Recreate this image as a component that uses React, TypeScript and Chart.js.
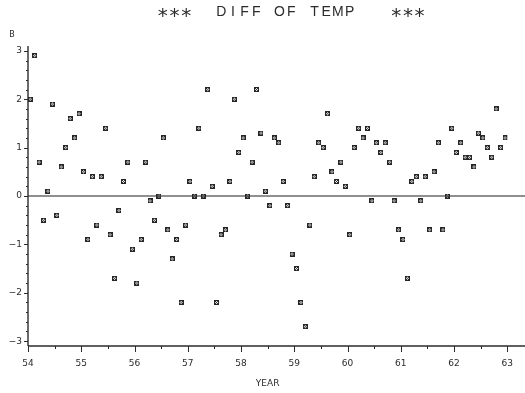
import React, { useEffect, useRef } from "react";
import { Chart, registerables } from "chart.js";

Chart.register(...registerables);

const TITLE = "***  DIFF OF TEMP   ***";
const Y_AXIS_LABEL = "B";
const X_AXIS_LABEL = "YEAR";

const FIRST_YEAR = 54;
const LAST_YEAR = 63;
const X_TICKS = [54, 55, 56, 57, 58, 59, 60, 61, 62, 63];
const Y_TICKS = [-3, -2, -1, 0, 1, 2, 3];
const Y_MIN = -3.1;
const Y_MAX = 3.1;

// monthly values, one array per year (Jan..Dec)
const DIFF_54 = [2.0, 2.9, 0.7, -0.5, 0.1, 1.9, -0.4, 0.6, 1.0, 1.6, 1.2, 1.7];
const DIFF_55 = [0.5, -0.9, 0.4, -0.6, 0.4, 1.4, -0.8, -1.7, -0.3, 0.3, 0.7, -1.1];
const DIFF_56 = [-1.8, -0.9, 0.7, -0.1, -0.5, 0.0, 1.2, -0.7, -1.3, -0.9, -2.2, -0.6];
const DIFF_57 = [0.3, 0.0, 1.4, 0.0, 2.2, 0.2, -2.2, -0.8, -0.7, 0.3, 2.0, 0.9];
const DIFF_58 = [1.2, 0.0, 0.7, 2.2, 1.3, 0.1, -0.2, 1.2, 1.1, 0.3, -0.2, -1.2];
const DIFF_59 = [-1.5, -2.2, -2.7, -0.6, 0.4, 1.1, 1.0, 1.7, 0.5, 0.3, 0.7, 0.2];
const DIFF_60 = [-0.8, 1.0, 1.4, 1.2, 1.4, -0.1, 1.1, 0.9, 1.1, 0.7, -0.1, -0.7];
const DIFF_61 = [-0.9, -1.7, 0.3, 0.4, -0.1, 0.4, -0.7, 0.5, 1.1, -0.7, 0.0, 1.4];
const DIFF_62 = [0.9, 1.1, 0.8, 0.8, 0.6, 1.3, 1.2, 1.0, 0.8, 1.8, 1.0, 1.2];

const YEARLY = [DIFF_54, DIFF_55, DIFF_56, DIFF_57, DIFF_58, DIFF_59, DIFF_60, DIFF_61, DIFF_62];

const INK = "#2b2b2b";
const FONT = "'DejaVu Sans', sans-serif";

function makeMarker(): HTMLCanvasElement {
  const m = document.createElement("canvas");
  m.width = 5;
  m.height = 5;
  const c = m.getContext("2d")!;
  c.strokeStyle = "#262626";
  c.lineWidth = 1;
  c.strokeRect(0.5, 0.5, 4, 4);
  c.beginPath();
  c.moveTo(0.5, 0.5);
  c.lineTo(4.5, 4.5);
  c.moveTo(4.5, 0.5);
  c.lineTo(0.5, 4.5);
  c.stroke();
  return m;
}

const decor = {
  id: "decor",
  beforeDatasetsDraw(chart: any) {
    const { ctx, chartArea: a, scales } = chart;
    const x = scales.x;
    const y = scales.y;
    const W = chart.width;
    ctx.save();
    const ln = (x1: number, y1: number, x2: number, y2: number) => {
      ctx.beginPath();
      ctx.moveTo(x1, y1);
      ctx.lineTo(x2, y2);
      ctx.stroke();
    };
    // zero reference line
    const y0 = y.getPixelForValue(0);
    ctx.strokeStyle = "#6a6a6a";
    ctx.lineWidth = 1.6;
    ln(a.left, y0, W, y0);
    // axes
    ctx.strokeStyle = INK;
    ctx.lineWidth = 1.4;
    ln(a.left, a.top, a.left, a.bottom);
    ln(a.left, a.bottom, W, a.bottom);
    // y ticks (major at integers, minor every 0.2)
    ctx.lineWidth = 1;
    for (let k = -15; k <= 15; k++) {
      const py = Math.round(y.getPixelForValue(k / 5)) + 0.5;
      const len = k % 5 === 0 ? 4 : 2;
      ln(a.left - len, py, a.left, py);
    }
    // x ticks (major at years, minor at half years)
    for (let k = FIRST_YEAR * 2; k <= LAST_YEAR * 2; k++) {
      const px = Math.round(x.getPixelForValue(k / 2)) + 0.5;
      const len = k % 2 === 0 ? 6 : 3;
      ln(px, a.bottom, px, a.bottom + len);
    }
    ctx.restore();
  },
  afterDraw(chart: any) {
    const { ctx, chartArea: a } = chart;
    ctx.save();
    ctx.fillStyle = INK;
    ctx.textBaseline = "middle";
    ctx.textAlign = "center";
    // title, monospaced pitch like a plotter font
    const pitch = 11.67;
    const startX = 157;
    for (let i = 0; i < TITLE.length; i++) {
      const ch = TITLE[i];
      if (ch === " ") continue;
      const cx = startX + pitch * (i + 0.5);
      if (ch === "*") {
        ctx.font = `20px ${FONT}`;
        ctx.fillText(ch, cx, 17);
      } else {
        ctx.font = `14px 'Liberation Sans', sans-serif`;
        ctx.fillText(ch, cx, 12);
      }
    }
    // y axis label
    ctx.font = `8px ${FONT}`;
    ctx.fillText(Y_AXIS_LABEL, 12, 35);
    // x axis label
    ctx.font = `9px ${FONT}`;
    ctx.fillText(X_AXIS_LABEL, (a.left + a.right) / 2, 384);
    ctx.restore();
  },
};

export default function App() {
  const ref = useRef<HTMLCanvasElement | null>(null);

  useEffect(() => {
    if (!ref.current) return;
    const points: { x: number; y: number }[] = [];
    YEARLY.forEach((vals, yi) => {
      vals.forEach((v, mi) => {
        points.push({ x: FIRST_YEAR + yi + (mi + 0.5) / 12, y: v });
      });
    });
    const marker = makeMarker();
    const tickFont = { family: FONT, size: 9 };
    const chart = new Chart(ref.current, {
      type: "scatter",
      data: {
        datasets: [
          {
            data: points,
            pointStyle: marker as any,
            pointRadius: 3,
            showLine: false,
          },
        ],
      },
      plugins: [decor],
      options: {
        animation: false,
        responsive: false,
        devicePixelRatio: 1,
        layout: { padding: { top: 46, right: 5, left: 0, bottom: 0 } },
        plugins: {
          legend: { display: false },
          tooltip: { enabled: false },
          title: { display: false },
        },
        scales: {
          x: {
            type: "linear",
            min: FIRST_YEAR,
            max: LAST_YEAR,
            afterBuildTicks: (s: any) => {
              s.ticks = X_TICKS.map((v) => ({ value: v }));
            },
            afterFit: (s: any) => {
              s.height = 47;
            },
            grid: { display: false, drawTicks: false },
            border: { display: false },
            ticks: {
              padding: 12,
              color: INK,
              font: tickFont,
              maxRotation: 0,
              autoSkip: false,
            },
          },
          y: {
            type: "linear",
            min: Y_MIN,
            max: Y_MAX,
            afterBuildTicks: (s: any) => {
              s.ticks = Y_TICKS.map((v) => ({ value: v }));
            },
            afterFit: (s: any) => {
              s.width = 28;
            },
            grid: { display: false, drawTicks: false },
            border: { display: false },
            ticks: {
              padding: 6,
              color: INK,
              font: tickFont,
              callback: (v: any) => (Number(v) < 0 ? "\u2212" + Math.abs(Number(v)) : String(v)),
            },
          },
        },
      },
    });
    return () => chart.destroy();
  }, []);

  return (
    <div style={{ position: "fixed", left: 0, top: 0, width: 525, height: 393, background: "#fff" }}>
      <canvas ref={ref} width={525} height={393} style={{ width: 525, height: 393, display: "block" }} />
    </div>
  );
}
